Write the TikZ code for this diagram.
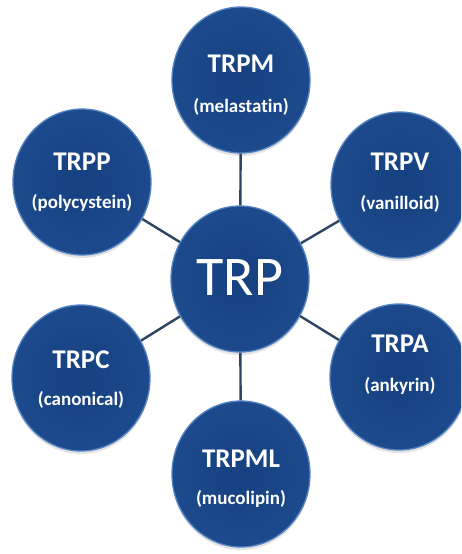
\documentclass[tikz,border=0pt]{standalone}
\usepackage{fontspec}
\setmainfont[Ligatures=NoCommon]{Carlito}
\usetikzlibrary{shadows,shapes.geometric}
\definecolor{ballfill}{HTML}{164080}
\definecolor{ballouter}{HTML}{1C4A8C}
\definecolor{ballrim}{HTML}{5583C2}
\definecolor{linkcol}{HTML}{2C4462}
\begin{document}
\begin{tikzpicture}[x=1pt,y=-1pt,
  ball/.style={ellipse, minimum width=138pt, minimum height=146pt, inner sep=0pt,
    inner color=ballfill, outer color=ballouter, draw=ballrim, line width=1.3pt,
    drop shadow={shadow xshift=0pt, shadow yshift=-3pt, opacity=0.22}},
  link/.style={draw=linkcol, line width=2.4pt},
  ttl/.style={text=white, font=\bfseries\fontsize{27}{29}\selectfont, anchor=base, inner sep=0pt},
  sub/.style={text=white, font=\bfseries\fontsize{19}{21}\selectfont, anchor=base, inner sep=0pt},
  big/.style={text=white, font=\fontsize{56}{60}\selectfont, anchor=base, inner sep=0pt}]
\useasboundingbox (0,0) rectangle (461,554);
\clip (0,0) rectangle (461,554);
\fill[white] (0,0) rectangle (461,554);
\node[ball] (T) at (240,279) {};
\node[ball] (M) at (241,80) {};
\node[ball] (V) at (400,185) {};
\node[ball] (A) at (399,377) {};
\node[ball] (ML) at (241,474) {};
\node[ball] (C) at (81,378) {};
\node[ball] (P) at (82,182) {};
\draw[link] (T) -- (M);
\draw[link] (T) -- (V);
\draw[link] (T) -- (A);
\draw[link] (T) -- (ML);
\draw[link] (T) -- (C);
\draw[link] (T) -- (P);
\node[big] (tT) at (240,295) {TRP};
\node[ttl] (tM) at (241,72) {TRPM};
\node[sub] (sM) at (241,112) {(melastatin)};
\node[ttl] (tV) at (400,170) {TRPV};
\node[sub] (sV) at (400,209) {(vanilloid)};
\node[ttl] (tA) at (400,352) {TRPA};
\node[sub] (sA) at (400,391) {(ankyrin)};
\node[ttl] (tML) at (241,467) {TRPML};
\node[sub] (sML) at (241,504) {(mucolipin)};
\node[ttl] (tC) at (81,368) {TRPC};
\node[sub] (sC) at (81,405) {(canonical)};
\node[ttl] (tP) at (82,170) {TRPP};
\node[sub] (sP) at (82,208) {(polycystein)};
\end{tikzpicture}
\end{document}
